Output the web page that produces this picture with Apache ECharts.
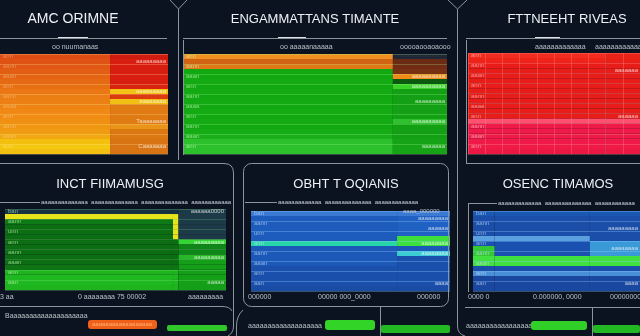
<!DOCTYPE html>
<html><head><meta charset="utf-8">
<script src="https://cdn.jsdelivr.net/npm/echarts@6/dist/echarts.min.js"></script>
<style>html,body{margin:0;padding:0;background:#0c1320}#c{width:640px;height:336px}</style>
</head><body><div id="c"></div>
<script>
// ---------- categories (rows, top to bottom) ----------
const rows20 = ['ann','uuuu','aann','iuuu','aaan','uuuu','ann','nnnu','aann','uuu','aaaa','uunn','ann','uuuu','aann','uuu','aaan','uun','ann','uuu'];
const rows16 = ['ban','inno','aann','iuuu','unn','auuu','ann','nnu','aann','uuu','aaan','unn','ann','uuu','aan','uuu'];

// ---------- titles / texts ----------
const titles = ['AMC ORIMNE','ENGAMMATTANS TIMANTE','FTTNEEHT RIVEAS','INCT FIIMAMUSG','OBHT T OQIANIS','OSENC TIMAMOS'];

// ---------- series values (segment widths per row) ----------
const p1Left  = [65.5,65.5,65.5,65.5,65.5,65.5,65.5,65.5,65.5,65.5,65.5,65.5,65.5,65.5,65.5,65.5,65.5,65.5,65.5,65.5];
const p1Right = [34.5,34.5,34.5,34.5,34.5,34.5,34.5,34.5,34.5,34.5,34.5,34.5,34.5,34.5,34.5,34.5,34.5,34.5,34.5,34.5];
const p2Left  = [79.5,79.5,79.5,79.5,79.5,79.5,79.5,79.5,79.5,79.5,79.5,79.5,79.5,79.5,79.5,79.5,79.5,79.5,79.5,79.5];
const p2Right = [20.5,20.5,20.5,20.5,20.5,20.5,20.5,20.5,20.5,20.5,20.5,20.5,20.5,20.5,20.5,20.5,20.5,20.5,20.5,20.5];
const p3Left  = [80,80,80,80,80,80,80,80,80,80,80,80,80,80,80,80,80,80,80,80];
const p3Right = [20,20,20,20,20,20,20,20,20,20,20,20,20,20,20,20,20,20,20,20];
const p4Left  = [76,76,76,76,76,76,76,76,76,76,76,76,76,76,76,76];
const p4Mid   = [2.5,2.5,2.5,2.5,2.5,2.5,2.5,2.5,2.5,2.5,2.5,2.5,2.5,2.5,2.5,2.5];
const p4Right = [21.5,21.5,21.5,21.5,21.5,21.5,21.5,21.5,21.5,21.5,21.5,21.5,21.5,21.5,21.5,21.5];
const p5Left  = [73.4,73.4,73.4,73.4,73.4,73.4,73.4,73.4,73.4,73.4,73.4,73.4,73.4,73.4,73.4,73.4];
const p5Right = [26.6,26.6,26.6,26.6,26.6,26.6,26.6,26.6,26.6,26.6,26.6,26.6,26.6,26.6,26.6,26.6];
const p6Left  = [13,13,13,13,13,13,13,13,13,13,13,13,13,13,13,13];
const p6Mid   = [57,57,57,57,57,57,57,57,57,57,57,57,57,57,57,57];
const p6Right = [30,30,30,30,30,30,30,30,30,30,30,30,30,30,30,30];

// ---------- small tags on last segment ----------
const p1Tags = ['','aaaaaaaaa','','','','','','aaaaaaaaa','','aaaaaaaa','','','','Taaaaaaaa','','','','','Caaaaaaa',''];
const p2Tags = ['','','','','aaaaaaaaaa','','aaaaaaaaaa','','','aaaaaaaaa','','','','aaaaaaaaaa','','','','','aaaaaaa',''];
const p3Tags = ['','','','aaaaaaa','','','','','','','','','aaaaaa','','','','','','',''];
const p4Tags = ['aaaaaa0000','','','','','','aaaaaaaaa','','','aaaaaaaaa','','','','','aaaaa',''];
const p5Tags = ['','aaaaaaaaa','','aaaaaa','','','aaaaaaaa','','aaaaaaaa','','','','','','aaaa',''];
const p6Tags = ['','','','aaaaaaaaa','','','','aaaaaaaa','','','','','','','aaaa',''];

// ---------- styles (colours per row) ----------
const c1L = ['#dc4c14','#de5214','#e05814','#e25e14','#e46414','#e66a14','#e87014','#ea7614','#ec7c14','#ed8014','#ee8414','#ef8814','#f08c14','#f09012','#f09612','#f09c12','#f2a810','#f4c010','#f5c810','#f2c010'];
const c1R = ['#d01c10','#d81e10','#d81e10','#d81e10','#d81e10','#d81e10','#d82410','#f2c214','#dc3a10','#f0c014','#e07a12','#e07a12','#e07a12','#e07a12','#e89418','#dc7812','#dc7812','#d87414','#d87414','#d87414'];
const c2L = ['#f09020','#d06414','#e07818','#12a812','#12a812','#14aa14','#12a812','#14aa14','#12a812','#14aa14','#12a812','#14aa14','#12a812','#14aa14','#12a812','#16ac16','#1aae1a','#2cc02c','#2cc02c','#2cc02c'];
const c2R = ['#202838','#6a2a14','#702c14','#7a3012','#f08a18','#0c5a10','#3ad028','#14a014','#14a014','#14a014','#14a014','#14a014','#14a014','#30c030','#14a014','#14a014','#14a014','#16a416','#16a416','#16a416'];
const c3L = ['#f22c1e','#ee241a','#e81c18','#e81c18','#e81c18','#e81c18','#e81c18','#e81c18','#e81c18','#e81c18','#e81c18','#e81c18','#e81c18','#ff5070','#f01a48','#f01a48','#f01a48','#f01a48','#f01a48','#ec1844'];
const c3R = ['#e82418','#e82018','#e81c18','#e81c18','#e81c18','#e81c18','#e81c18','#e81c18','#e81c18','#e81c18','#e81c18','#e81c18','#e81c18','#ff5070','#f01a48','#f01a48','#f01a48','#f01a48','#f01a48','#ec1844'];
const c4L = ['#163242','#e8e41c','#0e7a16','#0c6e12','#0c6e12','#0c6e12','#0c6e12','#0c6e12','#0c6e12','#0c6e12','#0c6e12','#0e7414','#1eb41e','#20b820','#20b820','#1eb41e'];
const c4M = ['#163242','#e8e41c','#e8e41c','#e8e41c','#e8e41c','#e8e41c','#0c6e12','#0c6e12','#0c6e12','#0c6e12','#0c6e12','#0e7414','#1eb41e','#20b820','#20b820','#1eb41e'];
const c4R = ['#1c3a48','#1c3a48','#1c3a48','#1c3a48','#1c3a48','#1c3a48','#34d634','#0f8618','#0f8618','#26b826','#159e18','#159e18','#159e18','#159e18','#159e18','#159e18'];
const c5L = ['#3a7ad4','#1d5cbc','#1d5cbc','#1d5cbc','#1d5cbc','#1d5cbc','#26d6a8','#1c58b8','#1c58b8','#1c58b8','#1c58b8','#1a50ac','#1a50ac','#1a50ac','#1a50ac','#1a4ca6'];
const c5R = ['#3a7ad4','#2062c4','#2062c4','#2062c4','#2062c4','#3ee03e','#3ee03e','#1c58b8','#3cccd4','#1a50ac','#1a50ac','#1a50ac','#1a50ac','#1a50ac','#1a50ac','#1a4ca6'];
const c6L = ['#1a58b4','#1a4ea8','#1a4ea8','#1a4ea8','#1a4ea8','#5aa0e0','#1a50b0','#34c834','#34c834','#40e040','#40e040','#1a4ea8','#4a90d8','#1a48a0','#1a48a0','#1a48a0'];
const c6M = ['#1a58b4','#1a4ea8','#1a4ea8','#1a4ea8','#1a4ea8','#5aa0e0','#1a50b0','#1a50b0','#1a50b0','#40e040','#40e040','#1a4ea8','#4a90d8','#1a48a0','#1a48a0','#1a48a0'];
const c6R = ['#1a58b4','#1a4ea8','#1a4ea8','#1a4ea8','#1a4ea8','#1a4ea8','#3a9ad8','#3a9ad8','#3a9ad8','#40e040','#40e040','#1a4ea8','#4a90d8','#1a48a0','#1a48a0','#1a48a0'];

const panels = [
  {grid:{left:0,top:54,width:168,height:100}, rows:rows20, segs:[p1Left,p1Right], colors:[c1L,c1R], tags:p1Tags, line:'rgba(255,225,150,0.28)', v:false, lab:'rgba(255,240,200,0.35)'},
  {grid:{left:183,top:54,width:264,height:100}, rows:rows20, segs:[p2Left,p2Right], colors:[c2L,c2R], tags:p2Tags, line:'rgba(170,255,150,0.25)', v:false, lab:'rgba(210,255,200,0.6)'},
  {grid:{left:468,top:53,width:172,height:101}, rows:rows20, segs:[p3Left,p3Right], colors:[c3L,c3R], tags:p3Tags, line:'rgba(255,150,150,0.3)', v:true, lab:'rgba(255,210,210,0.6)'},
  {grid:{left:5,top:209,width:221,height:81}, rows:rows16, segs:[p4Left,p4Mid,p4Right], colors:[c4L,c4M,c4R], tags:p4Tags, line:'rgba(150,255,150,0.22)', v:false, lab:'rgba(210,255,200,0.6)'},
  {grid:{left:251,top:211,width:199,height:80}, rows:rows16, segs:[p5Left,p5Right], colors:[c5L,c5R], tags:p5Tags, line:'rgba(150,200,255,0.35)', v:false, lab:'rgba(210,230,255,0.6)'},
  {grid:{left:473,top:211,width:167,height:80}, rows:rows16, segs:[p6Left,p6Mid,p6Right], colors:[c6L,c6M,c6R], tags:p6Tags, line:'rgba(150,200,255,0.35)', v:false, lab:'rgba(210,230,255,0.6)'}
];

const FONT = '"Liberation Sans", "DejaVu Sans", sans-serif';
const option = {backgroundColor:'#0c1320', animation:false, grid:[], xAxis:[], yAxis:[], series:[], graphic:[]};

panels.forEach((p,i)=>{
  option.grid.push(Object.assign({}, p.grid));
  option.xAxis.push({type:'value', gridIndex:i, min:0, max:100, interval:10,
    axisLine:{show:false}, axisTick:{show:false}, axisLabel:{show:false},
    splitLine:{show:p.v, lineStyle:{color:p.line, width:1}}, z:5});
  option.yAxis.push({type:'category', gridIndex:i, data:p.rows, inverse:true,
    axisLine:{show:false}, axisTick:{show:false}, splitLine:{show:false},
    axisLabel:{inside:true, interval:1, fontSize:6, fontFamily:FONT, color:p.lab, margin:3}, z:6});
  option.yAxis.push({type:'value', gridIndex:i, min:0, max:p.rows.length, interval:2,
    axisLine:{show:false}, axisTick:{show:false}, axisLabel:{show:false},
    splitLine:{show:true, lineStyle:{color:p.line, width:1}}, z:5});
  const last = p.segs.length-1;
  p.segs.forEach((vals,k)=>{
    option.series.push({type:'bar', xAxisIndex:i, yAxisIndex:2*i, stack:'s'+i,
      barCategoryGap:'0%', silent:true,
      data: vals.map((v,r)=>{
        const d = {value:v, itemStyle:{color:p.colors[k][r]}};
        if (k===last && p.tags[r]) d.label = {show:true, position:'insideRight', formatter:p.tags[r], fontSize:6, fontFamily:FONT, color:'rgba(255,255,255,0.7)', distance:2};
        return d;
      })});
  });
});

// ---------- decorative frame ----------
const G = option.graphic;
const FR = '#8c949c';
function L(x1,y1,x2,y2,c,w){G.push({type:'line', z:100, silent:true, shape:{x1,y1,x2,y2}, style:{stroke:c||FR, lineWidth:w||1}});}
function PL(pts,c){G.push({type:'polyline', z:100, silent:true, shape:{points:pts}, style:{stroke:c||FR, lineWidth:1, fill:null}});}
function Q(x1,y1,cx,cy,x2,y2,c){G.push({type:'bezierCurve', z:100, silent:true, shape:{x1,y1,x2,y2,cpx1:cx,cpy1:cy}, style:{stroke:c||FR, lineWidth:1, fill:null}});}
function T(x,y,t,s,c,a,b){G.push({type:'text', z:101, silent:true, x, y, style:{text:t, fontSize:s||7, fontFamily:FONT, fontWeight:b?'bold':'normal', fill:c||'#b8c0c8', align:a||'left', verticalAlign:'middle'}});}
function R(x,y,w,h,r,f){G.push({type:'rect', z:101, silent:true, shape:{x,y,width:w,height:h,r}, style:{fill:f}});}

// top row
L(0,38.5,167,38.5); L(58,37.5,88,37.5,'#dde2e8');
L(0,163.5,180,163.5);
PL([[170,0],[178.5,9],[187,0]]); L(178.5,9,178.5,160);
L(183.5,40,183.5,155);
L(183,38.5,447,38.5); L(278,37.5,306,37.5,'#dde2e8');
PL([[448,0],[457.5,9],[467,0]]); L(457.5,9,457.5,326);
Q(457.5,326,457.5,334,465,336);
L(466.5,40,466.5,163);
L(466,38.5,640,38.5); L(535,37.5,560,37.5,'#dde2e8');
L(466,163.5,640,163.5);
// bottom-left panel
L(0,163.5,224,163.5); Q(224,163.5,233.5,163.5,233.5,173); L(233.5,173,233.5,326); Q(233.5,326,233.5,333,228,336);
L(0,202.5,40,202.5);
L(0,306.5,222,306.5); Q(222,306.5,230,306.5,232,311);
// bottom-middle panel
G.push({type:'rect', z:100, silent:true, shape:{x:243.5,y:163.5,width:205,height:143,r:8}, style:{stroke:FR, lineWidth:1, fill:null}});
Q(243,310,236.5,316,236.5,326); L(236.5,326,236.5,336);
L(380.5,306,380.5,336);
L(245,202.5,277,202.5);
// bottom-right panel
L(468,203.5,497,203.5);
L(468.5,203,468.5,292);
L(465,307.5,640,307.5);
L(592.5,307,592.5,336);

// titles
T(73,19,titles[0],14,'#eef2f6','center');
T(315,19,titles[1],13,'#eef2f6','center');
T(567,19,titles[2],13,'#eef2f6','center');
T(110,184,titles[3],13,'#eef2f6','center');
T(346,184,titles[4],13,'#eef2f6','center');
T(558,184,titles[5],13,'#eef2f6','center');

// small subtitles
T(52,47,'oo nuumanaas',7);
T(280,47,'oo aaaaanaaaaa',7);
T(400,47,'ooooaooaoaooo',7);
T(535,47,'aaaaaaaaaaaaa',7);
T(595,47,'aaaaaaaaaaaa',7);
T(41,202,'aaaaaaaaaaaaaa  aaaaaaaaaaaaaa  aaaaaaaaaaaaaa  aaaaaaaaaaaa',6,'#c8d0d8');
T(278,202,'aaaaaaaaaaaaa  aaaaaaaaaaaaaa  aaaaaaaaaaaaa',6,'#c8d0d8');
T(498,203,'aaaaaaaaaaaaa  aaaaaaaaaaaaaa  aaaaaaaaaaaa',6,'#c8d0d8');
T(403,211,'aaaa_000000',6);
// axis-like labels
T(0,297,'3 aa',7); T(78,297,'0 aaaaaaaa 75 00002',7); T(188,297,'aaaaaaaaa',7);
T(248,297,'000000',7); T(318,297,'00000 000_0000',7); T(417,297,'000000',7);
T(468,297,'0000 0',7); T(533,297,'0.000000, 0000',7); T(610,297,'00000000',7);
// bottom strips
T(5,316,'Baaaaaaaaaaaaaaaaaaaa',7);
T(248,326,'aaaaaaaaaaaaaaaaaaa',7);
T(466,326,'aaaaaaaaaaaaaaaaa',7);
R(88,320,69,9,3,'#f0601a'); T(92,324.5,'aaaaaaaaaaaaaaaaaa',6,'#ffb070');
R(167,325,60,6,2,'#30c828');
R(325,320,50,10,3,'#32d428');
R(381,325,69,8,2,'#22b822');
R(531,321,56,9,3,'#30d028');
R(593,325,47,8,2,'#22b822');

const chart = echarts.init(document.getElementById('c'), null, {renderer:'canvas'});
chart.setOption(option);
</script>
</body></html>
